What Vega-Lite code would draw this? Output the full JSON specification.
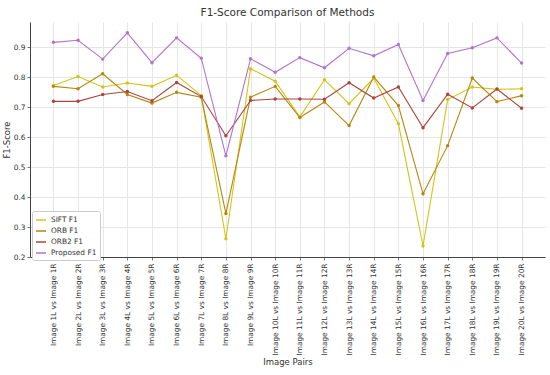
{
  "$schema": "https://vega.github.io/schema/vega-lite/v6.json",
  "autosize": {"type": "none"},
  "padding": {"left": 30, "top": 22, "right": 5, "bottom": 118},
  "width": 515,
  "height": 235,
  "background": "white",
  "title": {"text": "F1-Score Comparison of Methods", "font": "DejaVu Sans", "fontSize": 10.5, "fontWeight": "normal", "color": "#333333", "offset": 4},
  "data": {"values": [
    {"pair": "Image 1L vs Image 1R", "method": "SIFT F1", "f1": 0.773},
    {"pair": "Image 2L vs Image 2R", "method": "SIFT F1", "f1": 0.803},
    {"pair": "Image 3L vs Image 3R", "method": "SIFT F1", "f1": 0.768},
    {"pair": "Image 4L vs Image 4R", "method": "SIFT F1", "f1": 0.781},
    {"pair": "Image 5L vs Image 5R", "method": "SIFT F1", "f1": 0.770},
    {"pair": "Image 6L vs Image 6R", "method": "SIFT F1", "f1": 0.807},
    {"pair": "Image 7L vs Image 7R", "method": "SIFT F1", "f1": 0.739},
    {"pair": "Image 8L vs Image 8R", "method": "SIFT F1", "f1": 0.261},
    {"pair": "Image 9L vs Image 9R", "method": "SIFT F1", "f1": 0.829},
    {"pair": "Image 10L vs Image 10R", "method": "SIFT F1", "f1": 0.787},
    {"pair": "Image 11L vs Image 11R", "method": "SIFT F1", "f1": 0.668},
    {"pair": "Image 12L vs Image 12R", "method": "SIFT F1", "f1": 0.792},
    {"pair": "Image 13L vs Image 13R", "method": "SIFT F1", "f1": 0.712},
    {"pair": "Image 14L vs Image 14R", "method": "SIFT F1", "f1": 0.797},
    {"pair": "Image 15L vs Image 15R", "method": "SIFT F1", "f1": 0.645},
    {"pair": "Image 16L vs Image 16R", "method": "SIFT F1", "f1": 0.237},
    {"pair": "Image 17L vs Image 17R", "method": "SIFT F1", "f1": 0.726},
    {"pair": "Image 18L vs Image 18R", "method": "SIFT F1", "f1": 0.768},
    {"pair": "Image 19L vs Image 19R", "method": "SIFT F1", "f1": 0.760},
    {"pair": "Image 20L vs Image 20R", "method": "SIFT F1", "f1": 0.762},
    {"pair": "Image 1L vs Image 1R", "method": "ORB F1", "f1": 0.770},
    {"pair": "Image 2L vs Image 2R", "method": "ORB F1", "f1": 0.762},
    {"pair": "Image 3L vs Image 3R", "method": "ORB F1", "f1": 0.812},
    {"pair": "Image 4L vs Image 4R", "method": "ORB F1", "f1": 0.743},
    {"pair": "Image 5L vs Image 5R", "method": "ORB F1", "f1": 0.714},
    {"pair": "Image 6L vs Image 6R", "method": "ORB F1", "f1": 0.750},
    {"pair": "Image 7L vs Image 7R", "method": "ORB F1", "f1": 0.734},
    {"pair": "Image 8L vs Image 8R", "method": "ORB F1", "f1": 0.345},
    {"pair": "Image 9L vs Image 9R", "method": "ORB F1", "f1": 0.734},
    {"pair": "Image 10L vs Image 10R", "method": "ORB F1", "f1": 0.770},
    {"pair": "Image 11L vs Image 11R", "method": "ORB F1", "f1": 0.666},
    {"pair": "Image 12L vs Image 12R", "method": "ORB F1", "f1": 0.718},
    {"pair": "Image 13L vs Image 13R", "method": "ORB F1", "f1": 0.639},
    {"pair": "Image 14L vs Image 14R", "method": "ORB F1", "f1": 0.801},
    {"pair": "Image 15L vs Image 15R", "method": "ORB F1", "f1": 0.706},
    {"pair": "Image 16L vs Image 16R", "method": "ORB F1", "f1": 0.411},
    {"pair": "Image 17L vs Image 17R", "method": "ORB F1", "f1": 0.572},
    {"pair": "Image 18L vs Image 18R", "method": "ORB F1", "f1": 0.798},
    {"pair": "Image 19L vs Image 19R", "method": "ORB F1", "f1": 0.719},
    {"pair": "Image 20L vs Image 20R", "method": "ORB F1", "f1": 0.739},
    {"pair": "Image 1L vs Image 1R", "method": "ORB2 F1", "f1": 0.720},
    {"pair": "Image 2L vs Image 2R", "method": "ORB2 F1", "f1": 0.720},
    {"pair": "Image 3L vs Image 3R", "method": "ORB2 F1", "f1": 0.743},
    {"pair": "Image 4L vs Image 4R", "method": "ORB2 F1", "f1": 0.753},
    {"pair": "Image 5L vs Image 5R", "method": "ORB2 F1", "f1": 0.722},
    {"pair": "Image 6L vs Image 6R", "method": "ORB2 F1", "f1": 0.783},
    {"pair": "Image 7L vs Image 7R", "method": "ORB2 F1", "f1": 0.736},
    {"pair": "Image 8L vs Image 8R", "method": "ORB2 F1", "f1": 0.605},
    {"pair": "Image 9L vs Image 9R", "method": "ORB2 F1", "f1": 0.723},
    {"pair": "Image 10L vs Image 10R", "method": "ORB2 F1", "f1": 0.728},
    {"pair": "Image 11L vs Image 11R", "method": "ORB2 F1", "f1": 0.728},
    {"pair": "Image 12L vs Image 12R", "method": "ORB2 F1", "f1": 0.727},
    {"pair": "Image 13L vs Image 13R", "method": "ORB2 F1", "f1": 0.782},
    {"pair": "Image 14L vs Image 14R", "method": "ORB2 F1", "f1": 0.731},
    {"pair": "Image 15L vs Image 15R", "method": "ORB2 F1", "f1": 0.768},
    {"pair": "Image 16L vs Image 16R", "method": "ORB2 F1", "f1": 0.632},
    {"pair": "Image 17L vs Image 17R", "method": "ORB2 F1", "f1": 0.744},
    {"pair": "Image 18L vs Image 18R", "method": "ORB2 F1", "f1": 0.698},
    {"pair": "Image 19L vs Image 19R", "method": "ORB2 F1", "f1": 0.761},
    {"pair": "Image 20L vs Image 20R", "method": "ORB2 F1", "f1": 0.697},
    {"pair": "Image 1L vs Image 1R", "method": "Proposed F1", "f1": 0.917},
    {"pair": "Image 2L vs Image 2R", "method": "Proposed F1", "f1": 0.924},
    {"pair": "Image 3L vs Image 3R", "method": "Proposed F1", "f1": 0.861},
    {"pair": "Image 4L vs Image 4R", "method": "Proposed F1", "f1": 0.949},
    {"pair": "Image 5L vs Image 5R", "method": "Proposed F1", "f1": 0.849},
    {"pair": "Image 6L vs Image 6R", "method": "Proposed F1", "f1": 0.932},
    {"pair": "Image 7L vs Image 7R", "method": "Proposed F1", "f1": 0.864},
    {"pair": "Image 8L vs Image 8R", "method": "Proposed F1", "f1": 0.538},
    {"pair": "Image 9L vs Image 9R", "method": "Proposed F1", "f1": 0.862},
    {"pair": "Image 10L vs Image 10R", "method": "Proposed F1", "f1": 0.817},
    {"pair": "Image 11L vs Image 11R", "method": "Proposed F1", "f1": 0.866},
    {"pair": "Image 12L vs Image 12R", "method": "Proposed F1", "f1": 0.832},
    {"pair": "Image 13L vs Image 13R", "method": "Proposed F1", "f1": 0.897},
    {"pair": "Image 14L vs Image 14R", "method": "Proposed F1", "f1": 0.872},
    {"pair": "Image 15L vs Image 15R", "method": "Proposed F1", "f1": 0.910},
    {"pair": "Image 16L vs Image 16R", "method": "Proposed F1", "f1": 0.723},
    {"pair": "Image 17L vs Image 17R", "method": "Proposed F1", "f1": 0.880},
    {"pair": "Image 18L vs Image 18R", "method": "Proposed F1", "f1": 0.899},
    {"pair": "Image 19L vs Image 19R", "method": "Proposed F1", "f1": 0.932},
    {"pair": "Image 20L vs Image 20R", "method": "Proposed F1", "f1": 0.848}
  ]},
  "mark": {"type": "line", "strokeWidth": 1.1, "point": {"size": 12, "filled": true}},
  "encoding": {
    "x": {
      "field": "pair", "type": "nominal", "sort": null,
      "scale": {"type": "point", "padding": 0.95},
      "axis": {"title": "Image Pairs", "labelAngle": -90, "labelFont": "DejaVu Sans", "labelFontSize": 7.4, "labelColor": "#333333", "titleFont": "DejaVu Sans", "titleFontSize": 8.5, "titleFontWeight": "normal", "titleColor": "#333333", "titlePadding": 3, "grid": true, "gridColor": "#e6e6e6", "domainColor": "#444444", "tickColor": "#777777", "tickSize": 3, "labelPadding": 3}
    },
    "y": {
      "field": "f1", "type": "quantitative",
      "scale": {"domain": [0.2, 0.985], "nice": false, "zero": false},
      "axis": {"title": "F1-Score", "values": [0.2, 0.3, 0.4, 0.5, 0.6, 0.7, 0.8, 0.9], "format": ".1f", "labelFont": "DejaVu Sans", "labelFontSize": 7.4, "labelColor": "#333333", "titleFont": "DejaVu Sans", "titleFontSize": 8.5, "titleFontWeight": "normal", "titleColor": "#333333", "titlePadding": 2, "gridColor": "#e6e6e6", "domainColor": "#444444", "tickColor": "#777777", "tickSize": 3, "labelPadding": 2}
    },
    "color": {
      "field": "method", "type": "nominal",
      "scale": {"domain": ["SIFT F1", "ORB F1", "ORB2 F1", "Proposed F1"], "range": ["#d4c41a", "#b8860b", "#a8453f", "#b373cc"]},
      "legend": {"title": null, "orient": "none", "legendX": 2, "legendY": 189, "symbolType": "stroke", "symbolSize": 100, "symbolStrokeWidth": 1.5, "labelFont": "DejaVu Sans", "labelFontSize": 7.4, "labelColor": "#333333", "rowPadding": 1, "fillColor": "white", "strokeColor": "#cccccc", "padding": 3, "cornerRadius": 2, "labelOffset": 4}
    }
  },
  "config": {"view": {"stroke": null}}
}
